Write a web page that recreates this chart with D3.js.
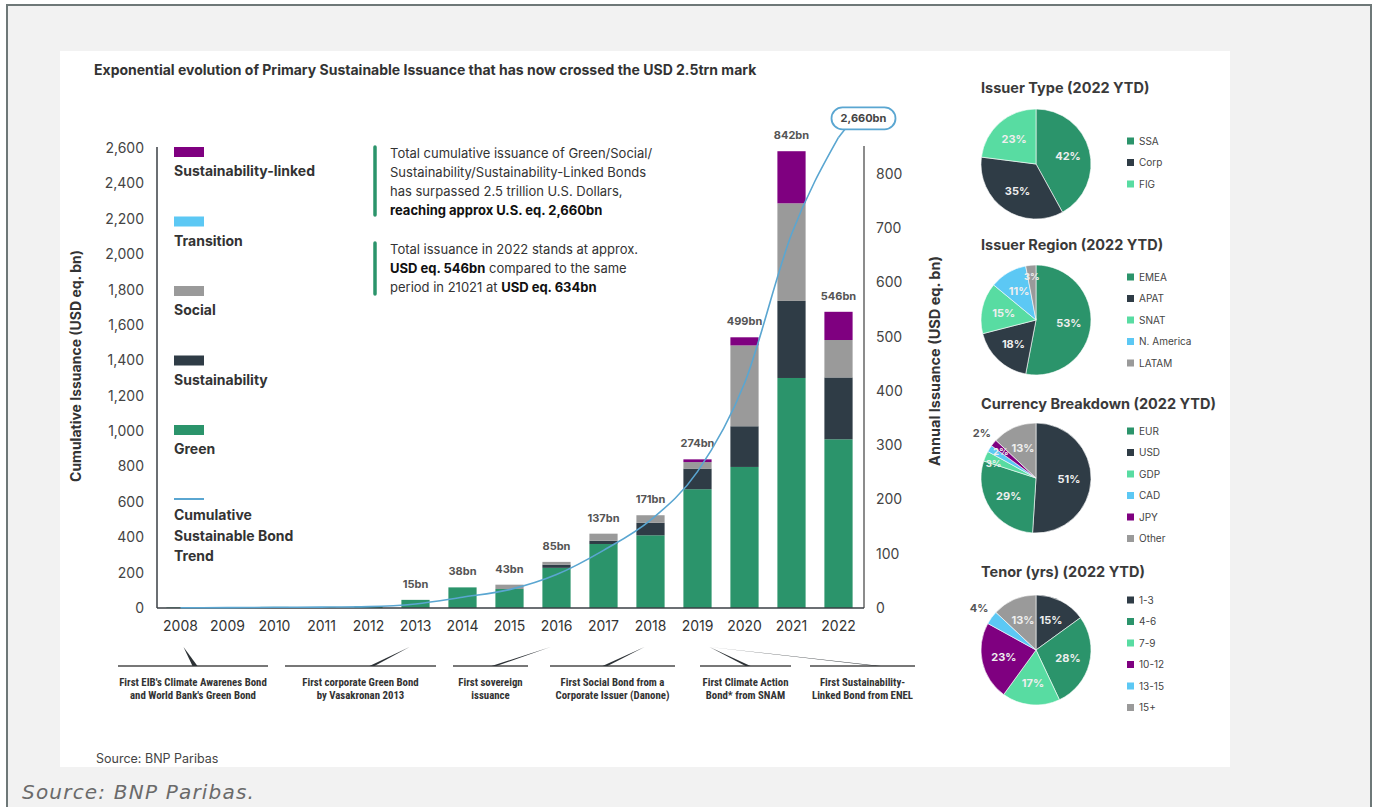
<!DOCTYPE html>
<html>
<head>
<meta charset="utf-8">
<script src="https://cdn.jsdelivr.net/npm/d3@7"></script>
<style>
  body { margin: 0; background: #fff; }
  svg text { font-family: Inter, "Noto Sans", sans-serif; }
  .narrow { font-family: "Liberation Sans Narrow", "Roboto Condensed", "DejaVu Sans Condensed", sans-serif !important; font-stretch: condensed; }
</style>
</head>
<body>
<svg id="chart" width="1378" height="807"></svg>
<script>

////////////// DATA

var years = [2008, 2009, 2010, 2011, 2012, 2013, 2014, 2015, 2016, 2017, 2018, 2019, 2020, 2021, 2022];

// annual issuance, USD eq. bn
var green                = [1, 1, 2, 1, 3, 15, 38, 35, 74, 118, 134, 219, 260, 424, 311];
var sustainability       = [0, 0, 0, 0, 0, 0, 0, 0, 6, 6, 23, 38, 75, 142, 114];
var social               = [0, 0, 0, 0, 0, 0, 0, 8, 5, 13, 14, 12, 149, 180, 69];
var transition           = [0, 0, 0, 0, 0, 0, 0, 0, 0, 0, 0, 0, 0, 0, 0];
var sustainabilityLinked = [0, 0, 0, 0, 0, 0, 0, 0, 0, 0, 0, 5, 15, 96, 52];
var totalLabels = ["", "", "", "", "", "15bn", "38bn", "43bn", "85bn", "137bn", "171bn", "274bn", "499bn", "842bn", "546bn"];

// cumulative issuance, USD eq. bn
var cumulative = [1, 2, 4, 5, 8, 23, 61, 104, 189, 326, 497, 771, 1270, 2112, 2660];
var cumulativeLabel = "2,660bn";

var leftTicks  = [0, 200, 400, 600, 800, 1000, 1200, 1400, 1600, 1800, 2000, 2200, 2400, 2600];
var rightTicks = [0, 100, 200, 300, 400, 500, 600, 700, 800];

var seriesKeys   = ["green", "sustainability", "social", "transition", "sustainabilityLinked"];
var legendNames  = ["Sustainability-linked", "Transition", "Social", "Sustainability", "Green"];
var legendKeys   = ["sustainabilityLinked", "transition", "social", "sustainability", "green"];

var events = [
    { year: 2008, lines: ["First EIB's Climate Awarenes Bond", "and World Bank's Green Bond"] },
    { year: 2013, lines: ["First corporate Green Bond", "by Vasakronan 2013"] },
    { year: 2016, lines: ["First sovereign", "issuance"] },
    { year: 2018, lines: ["First Social Bond from a", "Corporate Issuer (Danone)"] },
    { year: 2019, lines: ["First Climate Action", "Bond* from SNAM"] },
    { year: 2019, lines: ["First Sustainability-", "Linked Bond from ENEL"] }
];

var pieTitles = ["Issuer Type (2022 YTD)", "Issuer Region (2022 YTD)", "Currency Breakdown (2022 YTD)", "Tenor (yrs) (2022 YTD)"];
var issuerTypeLabels  = ["SSA", "Corp", "FIG"];
var issuerTypeValues  = [42, 35, 23];
var regionLabels      = ["EMEA", "APAT", "SNAT", "N. America", "LATAM"];
var regionValues      = [53, 18, 15, 11, 3];
var currencyLabels    = ["USD", "EUR", "GDP", "CAD", "JPY", "Other"];
var currencyValues    = [51, 29, 3, 2, 2, 13];
var currencyLegend    = ["EUR", "USD", "GDP", "CAD", "JPY", "Other"];
var tenorLabels       = ["1-3", "4-6", "7-9", "10-12", "13-15", "15+"];
var tenorValues       = [15, 28, 17, 23, 4, 13];

////////////// STYLE

var colors = {
    green: "#2b946b", sustainability: "#2f3c46", social: "#9a9a9a",
    transition: "#5cc8f4", sustainabilityLinked: "#7f0080", line: "#5aa6d1"
};
var pieColors = {
    "SSA": colors.green, "Corp": colors.sustainability, "FIG": "#58dca2",
    "EMEA": colors.green, "APAT": colors.sustainability, "SNAT": "#58dca2", "N. America": colors.transition, "LATAM": colors.social,
    "EUR": colors.green, "USD": colors.sustainability, "GDP": "#58dca2", "CAD": colors.transition, "JPY": colors.sustainabilityLinked, "Other": colors.social,
    "1-3": colors.sustainability, "4-6": colors.green, "7-9": "#58dca2", "10-12": colors.sustainabilityLinked, "13-15": colors.transition, "15+": colors.social
};

var svg = d3.select("#chart");

////////////// BACKGROUND

svg.append("rect")
    .attr("x", 7).attr("y", 5).attr("width", 1364).attr("height", 820)
    .style("fill", "#f2f2f2").style("stroke", "#6e7878").style("stroke-width", 2);

svg.append("rect")
    .attr("x", 60).attr("y", 51).attr("width", 1170).attr("height", 716)
    .style("fill", "#fff");

svg.append("text")
    .attr("x", 22).attr("y", 799)
    .text("Source: BNP Paribas.")
    .style("font-family", "'DejaVu Sans', sans-serif")
    .style("font-style", "italic")
    .style("font-size", "20px")
    .style("letter-spacing", "1.2px")
    .style("fill", "#6a6a6a");

svg.append("text")
    .attr("x", 96).attr("y", 763)
    .text("Source: BNP Paribas")
    .style("font-size", "12.5px")
    .style("fill", "#444");

svg.append("text")
    .attr("x", 94).attr("y", 75)
    .text("Exponential evolution of Primary Sustainable Issuance that has now crossed the USD 2.5trn mark")
    .style("font-size", "14px")
    .style("font-weight", 700)
    .style("fill", "#333");

////////////// SCALES

var x = d3.scaleBand().domain(years).range([157, 862]).paddingInner(0.4).paddingOuter(0.2);
var yL = d3.scaleLinear().domain([0, 2600]).range([608, 148]);
var yR = d3.scaleLinear().domain([0, 800]).range([608, 174]);

// axes
var leftAxis = svg.append("g")
    .attr("transform", "translate(157,0)")
    .call(d3.axisLeft(yL).tickValues(leftTicks).tickFormat(d3.format(",")).tickSize(0).tickPadding(13));
leftAxis.select(".domain").remove();
leftAxis.selectAll("text").style("font-size", "14px").style("fill", "#444").style("font-family", "Inter, sans-serif");

var rightAxis = svg.append("g")
    .attr("transform", "translate(864,0)")
    .call(d3.axisRight(yR).tickValues(rightTicks).tickSize(0).tickPadding(12));
rightAxis.select(".domain").remove();
rightAxis.selectAll("text").style("font-size", "14px").style("fill", "#444").style("font-family", "Inter, sans-serif");

var bottomAxis = svg.append("g")
    .attr("transform", "translate(0,608)")
    .call(d3.axisBottom(x).tickSize(0).tickPadding(13));
bottomAxis.select(".domain").remove();
bottomAxis.selectAll("text").style("font-size", "14px").style("fill", "#333").style("font-family", "Inter, sans-serif");

svg.append("line").attr("x1", 157).attr("x2", 157).attr("y1", 147).attr("y2", 608)
    .style("stroke", "#3a3f44").style("stroke-width", 1.5);
svg.append("line").attr("x1", 864).attr("x2", 864).attr("y1", 146).attr("y2", 608)
    .style("stroke", "#666").style("stroke-width", 1.5);

// axis titles
svg.append("text")
    .attr("transform", "translate(81,366) rotate(-90)")
    .attr("text-anchor", "middle")
    .text("Cumulative Issuance (USD eq. bn)")
    .style("font-size", "14px").style("font-weight", 700).style("fill", "#333");

svg.append("text")
    .attr("transform", "translate(940,361) rotate(-90)")
    .attr("text-anchor", "middle")
    .text("Annual Issuance (USD eq. bn)")
    .style("font-size", "14.5px").style("font-weight", 700).style("fill", "#333");

////////////// BARS

var rows = years.map(function (yr, i) {
    return { year: yr, green: green[i], sustainability: sustainability[i], social: social[i],
             transition: transition[i], sustainabilityLinked: sustainabilityLinked[i] };
});
var stacked = d3.stack().keys(seriesKeys)(rows);

svg.append("g").selectAll("g")
    .data(stacked)
    .enter().append("g")
    .style("fill", function (d) { return colors[d.key]; })
    .selectAll("rect")
    .data(function (d) { return d; })
    .enter().append("rect")
    .attr("x", function (d) { return x(d.data.year); })
    .attr("width", x.bandwidth())
    .attr("y", function (d) { return yR(d[1]); })
    .attr("height", function (d) { return Math.max(0, yR(d[0]) - yR(d[1])); });

svg.append("line").attr("x1", 157).attr("x2", 864).attr("y1", 608).attr("y2", 608)
    .style("stroke", "#3a3f44").style("stroke-width", 1.5);

// bar totals
svg.append("g").selectAll("text")
    .data(rows)
    .enter().append("text")
    .attr("x", function (d) { return x(d.year) + x.bandwidth() / 2; })
    .attr("y", function (d) { return yR(d.green + d.sustainability + d.social + d.transition + d.sustainabilityLinked) - 12; })
    .attr("text-anchor", "middle")
    .text(function (d, i) { return totalLabels[i]; })
    .style("font-size", "11px").style("font-weight", 700).style("fill", "#555");

////////////// CUMULATIVE LINE

var line = d3.line()
    .x(function (d, i) { return x(years[i]) + x.bandwidth() / 2; })
    .y(function (d) { return yL(d); })
    .curve(d3.curveMonotoneX);

svg.append("path")
    .datum(cumulative)
    .attr("d", line)
    .style("fill", "none").style("stroke", colors.line).style("stroke-width", 1.6);

var lastX = x(years[years.length - 1]) + x.bandwidth() / 2,
    lastY = yL(cumulative[cumulative.length - 1]);

svg.append("line")
    .attr("x1", lastX).attr("y1", lastY).attr("x2", lastX + 7).attr("y2", lastY - 9)
    .style("stroke", colors.line).style("stroke-width", 1.6);

svg.append("rect")
    .attr("x", lastX - 7).attr("y", lastY - 30).attr("width", 64).attr("height", 22).attr("rx", 11)
    .style("fill", "#fff").style("stroke", colors.line).style("stroke-width", 1.8);

svg.append("text")
    .attr("x", lastX + 25).attr("y", lastY - 15)
    .attr("text-anchor", "middle")
    .text(cumulativeLabel)
    .style("font-size", "11px").style("font-weight", 700).style("fill", "#444");

////////////// LEGEND

var legend = svg.append("g").attr("transform", "translate(174,147)");

legendKeys.forEach(function (k, i) {
    legend.append("rect")
        .attr("x", 0).attr("y", i * 69.5).attr("width", 30).attr("height", 10)
        .style("fill", colors[k]);
    legend.append("text")
        .attr("x", 0).attr("y", i * 69.5 + 29)
        .text(legendNames[i])
        .style("font-size", "14px").style("font-weight", 700).style("fill", "#333");
});

legend.append("line")
    .attr("x1", 0).attr("x2", 30).attr("y1", 352).attr("y2", 352)
    .style("stroke", colors.line).style("stroke-width", 2);

["Cumulative", "Sustainable Bond", "Trend"].forEach(function (t, i) {
    legend.append("text")
        .attr("x", 0).attr("y", 373 + i * 20.5)
        .text(t)
        .style("font-size", "14px").style("font-weight", 700).style("fill", "#333");
});

////////////// ANNOTATION TEXT

var notes = [
    { top: 147, bottom: 215, lines: [
        [["Total cumulative issuance of Green/Social/", 400]],
        [["Sustainability/Sustainability-Linked Bonds", 400]],
        [["has surpassed 2.5 trillion U.S. Dollars,", 400]],
        [["reaching approx U.S. eq. 2,660bn", 700]] ] },
    { top: 243, bottom: 294, lines: [
        [["Total issuance in 2022 stands at approx.", 400]],
        [["USD eq. 546bn", 700], [" compared to the same", 400]],
        [["period in 21021 at ", 400], ["USD eq. 634bn", 700]] ] }
];

notes.forEach(function (n) {
    svg.append("line")
        .attr("x1", 375).attr("x2", 375).attr("y1", n.top).attr("y2", n.bottom)
        .style("stroke", colors.green).style("stroke-width", 3.5).style("stroke-linecap", "round");
    n.lines.forEach(function (parts, i) {
        var t = svg.append("text")
            .attr("x", 390).attr("y", n.top + 10.5 + i * 19.3)
            .style("font-size", "13px").style("fill", "#333");
        parts.forEach(function (p) {
            t.append("tspan").text(p[0]).style("font-weight", p[1]).style("fill", p[1] > 500 ? "#111" : "#333");
        });
    });
});

////////////// EVENTS

var eventSegments = [[118, 268], [285, 436], [453, 528], [550, 675], [700, 791], [810, 915]];
var eventBase = [195, 372, 494, 605, 748, 878];

var ev = svg.append("g");
events.forEach(function (e, i) {
    var seg = eventSegments[i],
        cx = (seg[0] + seg[1]) / 2,
        bx = eventBase[i],
        tx = x(e.year) + x.bandwidth() / 2 + (i === 0 ? 3 : (i >= 4 ? 12 : -6)),
        ty = 647;

    ev.append("line")
        .attr("x1", seg[0]).attr("x2", seg[1]).attr("y1", 666).attr("y2", 666)
        .style("stroke", "#777").style("stroke-width", 2);

    ev.append("path")
        .attr("d", "M" + tx + "," + ty + "L" + (bx - 2.5) + ",666L" + (bx + 2.5) + ",666Z")
        .style("fill", "#2d3236");

    e.lines.forEach(function (l, j) {
        ev.append("text")
            .attr("class", "narrow")
            .attr("x", cx).attr("y", 686 + j * 13)
            .attr("text-anchor", "middle")
            .text(l)
            .style("font-size", "10.8px").style("font-weight", 700).style("fill", "#333");
    });
});

////////////// PIES

var pies = [
    { labels: issuerTypeLabels, values: issuerTypeValues, legend: issuerTypeLabels, cy: 164, titleY: 93, legendY: 141 },
    { labels: regionLabels, values: regionValues, legend: regionLabels, cy: 320, titleY: 250, legendY: 277 },
    { labels: currencyLabels, values: currencyValues, legend: currencyLegend, cy: 478, titleY: 409, legendY: 431 },
    { labels: tenorLabels, values: tenorValues, legend: tenorLabels, cy: 650, titleY: 577, legendY: 600 }
];
var outsideLabels = ["JPY", "13-15"];
// small inside labels nudged so they don't sit on top of each other
var labelNudge = { "GDP": [-2, 3], "CAD": [2, -3] };

var pieGen = d3.pie().sort(null).value(function (d) { return d.v; });
var r = 55;
var arc = d3.arc().innerRadius(0).outerRadius(r);

pies.forEach(function (p, pi) {
    var g = svg.append("g").attr("transform", "translate(1036," + p.cy + ")");
    var items = p.labels.map(function (l, i) { return { k: l, v: p.values[i] }; });
    var arcs = pieGen(items);

    svg.append("text")
        .attr("x", 981).attr("y", p.titleY)
        .text(pieTitles[pi])
        .style("font-size", "14.5px").style("font-weight", 700).style("fill", "#3a3a3a");

    g.selectAll("path")
        .data(arcs)
        .enter().append("path")
        .attr("d", arc)
        .style("fill", function (d) { return pieColors[d.data.k]; })
        .style("stroke", "#fff").style("stroke-width", 0.6);

    g.selectAll("text")
        .data(arcs)
        .enter().append("text")
        .attr("transform", function (d) {
            var a = (d.startAngle + d.endAngle) / 2,
                out = outsideLabels.indexOf(d.data.k) >= 0,
                rr = out ? r * 1.28 : (d.data.v < 5 ? r * 0.8 : r * 0.6),
                n = labelNudge[d.data.k] || [0, 0];
            return "translate(" + (Math.sin(a) * rr + n[0]) + "," + (-Math.cos(a) * rr + n[1]) + ")";
        })
        .attr("text-anchor", "middle")
        .attr("dy", "0.35em")
        .text(function (d) { return d.data.v + "%"; })
        .style("font-size", function (d) { return d.data.v < 5 && outsideLabels.indexOf(d.data.k) < 0 ? "9.5px" : "11px"; })
        .style("font-weight", 700)
        .style("fill", function (d) { return outsideLabels.indexOf(d.data.k) >= 0 ? "#555" : "#eee"; });

    p.legend.forEach(function (l, i) {
        svg.append("rect")
            .attr("x", 1127).attr("y", p.legendY + i * 21.5 - 3.5).attr("width", 7).attr("height", 7)
            .style("fill", pieColors[l]);
        svg.append("text")
            .attr("x", 1139).attr("y", p.legendY + i * 21.5)
            .attr("dy", "0.35em")
            .text(l)
            .style("font-size", "10px").style("fill", "#444");
    });
});

</script>
</body>
</html>
